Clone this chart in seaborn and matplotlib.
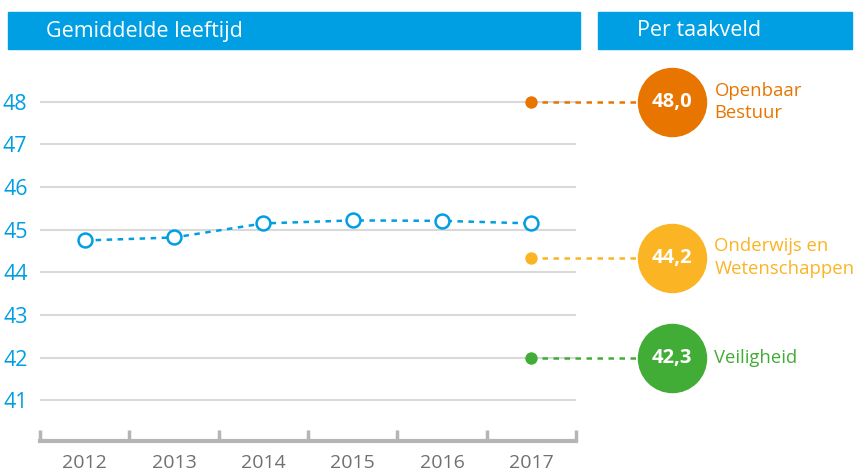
import matplotlib
matplotlib.use("Agg")
import matplotlib.pyplot as plt
import seaborn as sns
import pandas as pd
from matplotlib.patches import Rectangle

years = ["2012", "2013", "2014", "2015", "2016", "2017"]
ages = [44.75, 44.82, 45.15, 45.22, 45.21, 45.15]
y_ticks = [41, 42, 43, 44, 45, 46, 47, 48]

sectors = ["Openbaar\nBestuur", "Onderwijs en\nWetenschappen", "Veiligheid"]
sector_pos = [48.0, 44.35, 42.0]
sector_labels = ["48,0", "44,2", "42,3"]
sector_colors = ["#e87500", "#fbb424", "#41ad36"]

BLUE = "#009fe3"
sns.set_theme(style="white")
plt.rcParams["font.family"] = ["Open Sans", "DejaVu Sans"]

fig = plt.figure(figsize=(8.6, 4.73), dpi=100)
ax = fig.add_axes([40/860, (473-441)/473, 536/860, 381/473])

df = pd.DataFrame({"x": range(len(years)), "age": ages})
sns.lineplot(data=df, x="x", y="age", ax=ax, color=BLUE, lw=1.8,
             linestyle=(0, (2.2, 2.2)), marker="o", markersize=10,
             markerfacecolor="white", markeredgecolor=BLUE, markeredgewidth=1.8,
             zorder=5)

ax.set_xlim(-0.5, 5.5)
ax.set_ylim(40.05, 48.98)
ax.set_yticks(y_ticks)
ax.set_yticklabels([str(v) for v in y_ticks], color=BLUE, fontsize=15.5)
ax.tick_params(axis="y", length=0, pad=9)
for v in y_ticks:
    ax.axhline(v, color="#d9d9d9", lw=1.5, zorder=1)

ax.set_xticks([i - 0.5 for i in range(len(years) + 1)])
ax.set_xticklabels([])
ax.set_xticks(range(len(years)), minor=True)
ax.set_xticklabels(years, minor=True, color="#707070", fontsize=14)
ax.tick_params(axis="x", which="major", direction="in", length=8, width=2.5,
               color="#b5b5b5", bottom=True)
ax.tick_params(axis="x", which="minor", length=0, pad=9)
for s in ["top", "right", "left"]:
    ax.spines[s].set_visible(False)
ax.spines["bottom"].set_color("#b5b5b5")
ax.spines["bottom"].set_linewidth(3)
ax.set_xlabel("")
ax.set_ylabel("")

# sector markers
dot_x = 5.0
circle_x = 6.575
label_x = 7.05
for pos, lab, name, col in zip(sector_pos, sector_labels, sectors, sector_colors):
    ax.plot([dot_x, circle_x], [pos, pos], color=col, lw=1.8,
            linestyle=(0, (2.2, 2.2)), clip_on=False, zorder=4)
    ax.scatter([dot_x], [pos], s=80, color=col, clip_on=False, zorder=6, linewidths=0)
    ax.scatter([circle_x], [pos], s=2500, color=col, clip_on=False, zorder=6, linewidths=0)
    ax.text(circle_x, pos, lab, color="white", fontsize=14.5, fontweight="bold",
            ha="center", va="center", zorder=7, clip_on=False)
    ax.text(label_x, pos, name, color=col, fontsize=13.3, ha="left", va="center",
            linespacing=1.3, clip_on=False)

# header bars
fig.patches.append(Rectangle((8/860, (473-49)/473), 572/860, 37/473,
                             transform=fig.transFigure, color=BLUE, zorder=0))
fig.patches.append(Rectangle((598/860, (473-49)/473), 254/860, 37/473,
                             transform=fig.transFigure, color=BLUE, zorder=0))
fig.text(46/860, (473-31)/473, "Gemiddelde leeftijd", color="white", fontsize=15.5,
         va="center", ha="left")
fig.text(637/860, (473-31)/473, "Per taakveld", color="white", fontsize=15.5,
         va="center", ha="left")

fig.savefig("out.png", dpi=100)
